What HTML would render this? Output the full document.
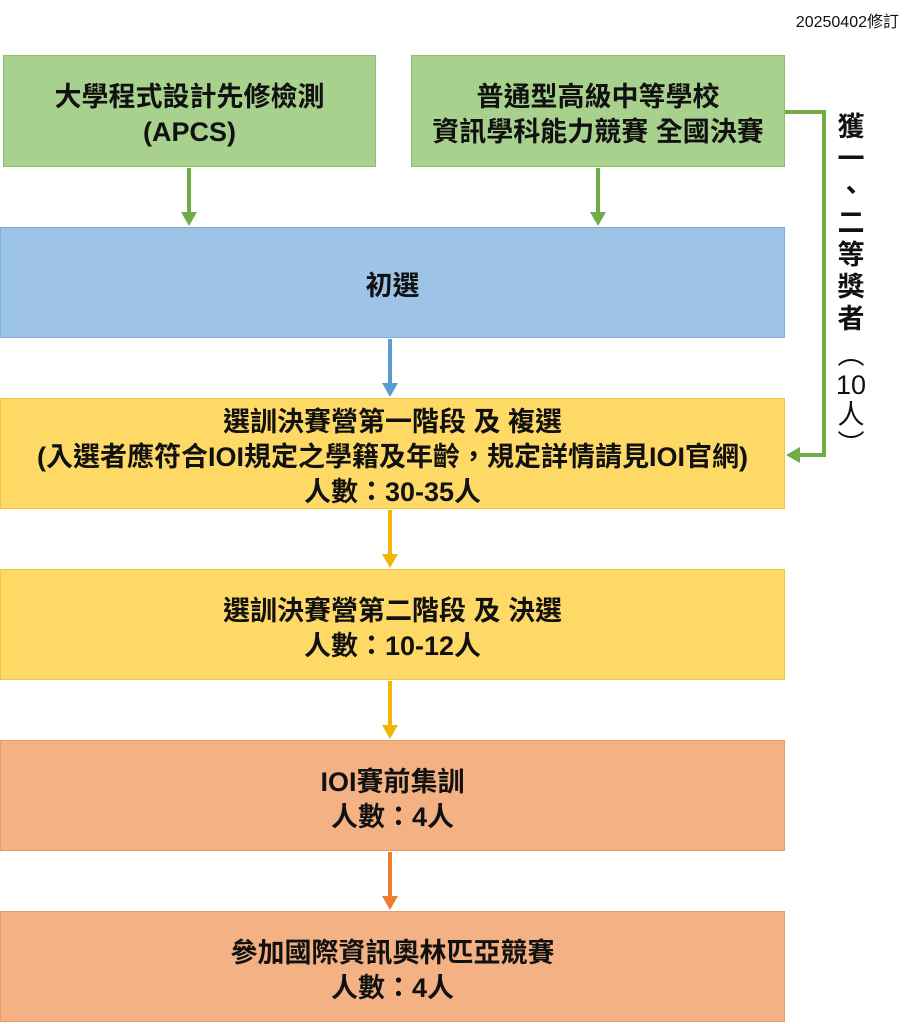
<!DOCTYPE html>
<html><head><meta charset="utf-8"><style>
body{margin:0;width:911px;height:1024px;background:#fff;position:relative;overflow:hidden;font-family:"Liberation Sans","Noto Sans CJK TC",sans-serif;}
.b{position:absolute;box-sizing:border-box;display:flex;align-items:center;justify-content:center;text-align:center;font-weight:bold;font-size:27px;line-height:35px;color:#111;padding-top:8px;}
.g{background:#A9D18E;border:1px solid #8CBF6E;}
.bl{background:#9DC3E6;border:1px solid #7FAEDB;}
.y{background:#FFD966;border:1px solid #F0C64A;}
.o{background:#F4B183;border:1px solid #E59C66;}
.v{position:absolute;left:834px;width:34px;text-align:center;font-size:27px;font-weight:bold;color:#111;line-height:30px;}
</style></head><body>
<div style="position:absolute;right:12px;top:8px;font-size:16px;color:#111">20250402修訂</div>
<div class="b g" style="left:3px;top:55px;width:373px;height:112px">大學程式設計先修檢測<br>(APCS)</div>
<div class="b g" style="left:411px;top:55px;width:374px;height:112px">普通型高級中等學校<br>資訊學科能力競賽 全國決賽</div>
<div class="b bl" style="left:0;top:227px;width:785px;height:111px">初選</div>
<div class="b y" style="left:0;top:398px;width:785px;height:111px">選訓決賽營第一階段 及 複選<br>(入選者應符合IOI規定之學籍及年齡，規定詳情請見IOI官網)<br>人數：30-35人</div>
<div class="b y" style="left:0;top:569px;width:785px;height:111px">選訓決賽營第二階段 及 決選<br>人數：10-12人</div>
<div class="b o" style="left:0;top:740px;width:785px;height:111px">IOI賽前集訓<br>人數：4人</div>
<div class="b o" style="left:0;top:911px;width:785px;height:111px">參加國際資訊奧林匹亞競賽<br>人數：4人</div>
<svg width="911" height="1024" style="position:absolute;left:0;top:0">
<g stroke-width="4" fill="none">
<line x1="189" y1="168" x2="189" y2="214" stroke="#70AD47"/>
<line x1="598" y1="168" x2="598" y2="214" stroke="#70AD47"/>
<line x1="390" y1="339" x2="390" y2="385" stroke="#5B9BD5"/>
<line x1="390" y1="510" x2="390" y2="556" stroke="#F2B705"/>
<line x1="390" y1="681" x2="390" y2="727" stroke="#F2B705"/>
<line x1="390" y1="852" x2="390" y2="898" stroke="#ED7D31"/>
<polyline points="785,112 824,112 824,455 798,455" stroke="#70AD47"/>
</g>
<polygon points="181,212 197,212 189,226" fill="#70AD47"/>
<polygon points="590,212 606,212 598,226" fill="#70AD47"/>
<polygon points="382,383 398,383 390,397" fill="#5B9BD5"/>
<polygon points="382,554 398,554 390,568" fill="#F2B705"/>
<polygon points="382,725 398,725 390,739" fill="#F2B705"/>
<polygon points="382,896 398,896 390,910" fill="#ED7D31"/>
<polygon points="800,447 800,463 786,455" fill="#70AD47"/>
</svg>
<div class="v" style="top:112px">獲</div>
<div class="v" style="top:144px">一</div>
<div class="v" style="top:176px">、</div>
<div class="v" style="top:208px">二</div>
<div class="v" style="top:240px">等</div>
<div class="v" style="top:272px">獎</div>
<div class="v" style="top:304px">者</div>
<div class="v" style="top:340px;font-weight:normal">︵</div>
<div class="v" style="top:370px;font-weight:normal">10</div>
<div class="v" style="top:400px;font-weight:normal">人</div>
<div class="v" style="top:430px;font-weight:normal">︶</div>
</body></html>
